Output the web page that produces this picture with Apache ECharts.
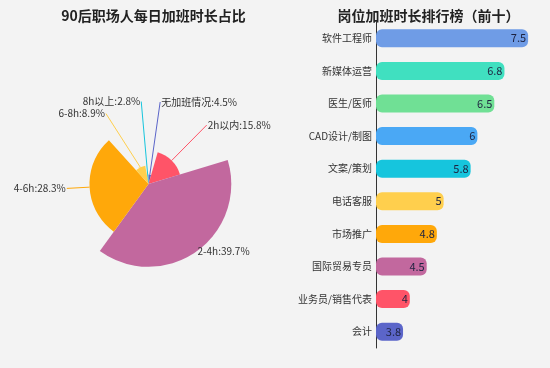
<!DOCTYPE html>
<html>
<head>
<meta charset="utf-8">
<script src="https://cdn.jsdelivr.net/npm/echarts@6/dist/echarts.min.js"></script>
<style>
html,body{margin:0;padding:0;background:#f3f3f3;}
#main{width:550px;height:368px;}
</style>
</head>
<body>
<div id="main"></div>
<script>
// Pie data
const pieNames = ['无加班情况', '2h以内', '2-4h', '4-6h', '6-8h', '8h以上'];
const pieValues = [4.5, 15.8, 39.7, 28.3, 8.9, 2.8];
const pieColors = ['#5b65c9', '#ff5468', '#c2689e', '#ffa80a', '#ffcf4d', '#16c5dd'];

// Bar data (top to bottom)
const barCategories = ['软件工程师', '新媒体运营', '医生/医师', 'CAD设计/制图', '文案/策划', '电话客服', '市场推广', '国际贸易专员', '业务员/销售代表', '会计'];
const barValues = [7.5, 6.8, 6.5, 6, 5.8, 5, 4.8, 4.5, 4, 3.8];
const barColors = ['#6f9ce6', '#40e0c0', '#70e095', '#4aa8f5', '#16c5dd', '#ffcf4d', '#ffa80a', '#c2689e', '#ff5468', '#5b65c9'];

const FONT = '"Noto Sans CJK SC", "Noto Sans", sans-serif';

const chart = echarts.init(document.getElementById('main'));
chart.setOption({
  backgroundColor: '#f3f3f3',
  animation: false,
  textStyle: { fontFamily: FONT },
  title: [
    { text: '90后职场人每日加班时长占比', left: '27%', top: 4, textAlign: 'center',
      textStyle: { fontSize: 14, fontWeight: 'bold', color: '#222', fontFamily: FONT } },
    { text: '岗位加班时长排行榜（前十）', left: '77%', top: 4, textAlign: 'center',
      textStyle: { fontSize: 14, fontWeight: 'bold', color: '#222', fontFamily: FONT } }
  ],
  grid: { left: 376, right: 5, top: 22, bottom: 20 },
  xAxis: { type: 'value', min: 3, max: 8, show: false },
  yAxis: {
    type: 'category', data: barCategories, inverse: true,
    axisLine: { lineStyle: { color: '#333' } },
    axisTick: { length: 3, lineStyle: { color: '#333' } },
    axisLabel: { color: '#333', fontSize: 10, margin: 4, fontFamily: FONT }
  },
  series: [
    {
      type: 'pie', roseType: 'radius', center: ['27%', '50%'], radius: ['0%', '45%'],
      startAngle: 90, clockwise: true, avoidLabelOverlap: true,
      data: pieNames.map((n, i) => ({ name: n, value: pieValues[i], itemStyle: { color: pieColors[i] } })),
      label: { formatter: '{b}:{c}%', fontSize: 10, color: '#333', fontFamily: FONT,
               overflow: 'none', distanceToLabelLine: 1 },
      labelLine: { length: 0, length2: 0, smooth: false }
    },
    {
      type: 'bar', barWidth: 18,
      data: barValues.map((v, i) => ({ value: v, itemStyle: { color: barColors[i], borderRadius: 6 } })),
      label: { show: true, position: 'insideRight', distance: 2, fontSize: 11, color: '#1e2340', fontFamily: FONT }
    }
  ]
});
</script>
</body>
</html>
